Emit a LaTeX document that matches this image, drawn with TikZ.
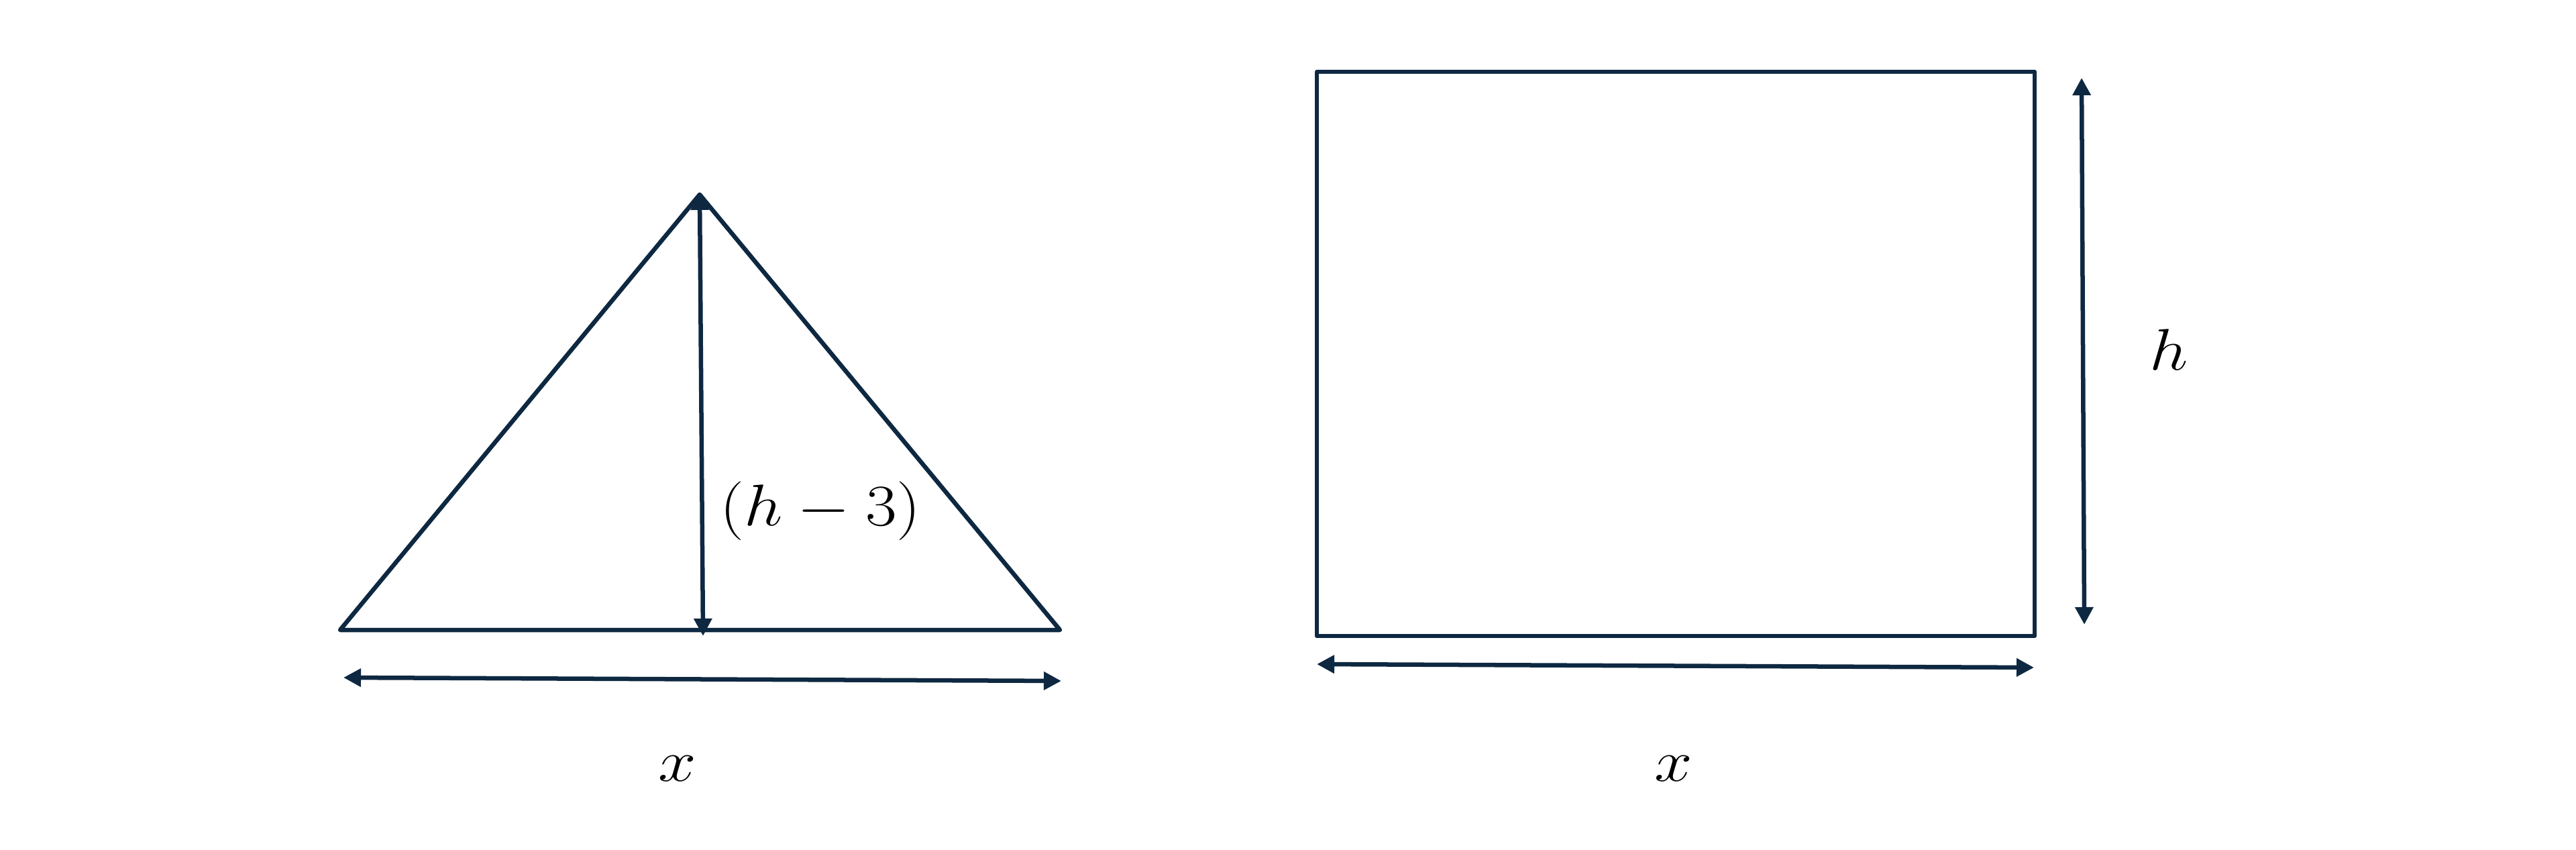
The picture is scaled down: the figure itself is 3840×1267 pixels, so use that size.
\documentclass[tikz,border=0pt]{standalone}
\usepackage{graphicx}
\usetikzlibrary{arrows.meta}
\definecolor{navy}{RGB}{14,40,65}
\newcommand{\widelab}[1]{\scalebox{1.16}[1]{#1}}
\begin{document}
\begin{tikzpicture}[x=0.01cm,y=-0.01cm,
  shape line/.style={draw=navy,line width=1.85pt,line join=round,line cap=round},
  dim arrow/.style={draw=navy,line width=1.85pt,
    {Triangle[length=0.26cm,width=0.26cm]}-{Triangle[length=0.26cm,width=0.26cm]}},
  lab/.style={inner sep=0pt,font=\fontsize{34pt}{40pt}\selectfont}]
\useasboundingbox[fill=white] (0,0) rectangle (3840,1267);
% triangle
\coordinate (A) at (507,939);
\coordinate (B) at (1580,939);
\coordinate (C) at (1043,290);
\draw[shape line] (A) -- (B) -- (C) -- cycle;
% altitude
\coordinate (Ht) at (1043,287);
\coordinate (Hb) at (1048,948);
\draw[dim arrow] (Ht) -- (Hb);
\node[lab] (hm3) at (1223,762) {\widelab{$(h-3)$}};
% base dimension
\coordinate (Xl) at (512,1010);
\coordinate (Xr) at (1582,1015);
\draw[dim arrow] (Xl) -- (Xr);
\node[lab] (x1) at (1010,1146) {\widelab{$x$}};
% rectangle
\coordinate (R1) at (1963,107);
\coordinate (R2) at (3033,948);
\draw[shape line] (R1) rectangle (R2);
% height dimension
\coordinate (Vt) at (3103,116);
\coordinate (Vb) at (3107,931);
\draw[dim arrow] (Vt) -- (Vb);
\node[lab] (h) at (3233,521) {\widelab{$h$}};
% width dimension
\coordinate (Wl) at (1963,990);
\coordinate (Wr) at (3032,995);
\draw[dim arrow] (Wl) -- (Wr);
\node[lab] (x2) at (2495,1146) {\widelab{$x$}};
\end{tikzpicture}
\end{document}
